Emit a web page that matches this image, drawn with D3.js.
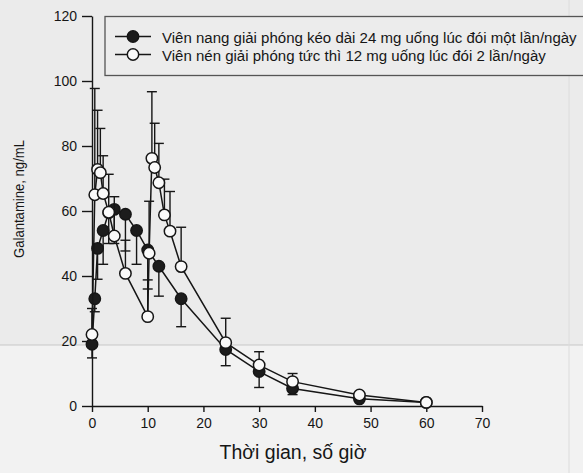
<!DOCTYPE html>
<html><head><meta charset="utf-8">
<script src="https://cdn.jsdelivr.net/npm/d3@7"></script>
<style>html,body{margin:0;padding:0;background:#eeeeee;}svg{display:block;}</style>
</head><body>
<svg id="c" width="583" height="473"></svg>
<script>
// ---- data ----
const timeER = [0, 0.5, 1, 2, 3, 4, 6, 8, 10, 12, 16, 24, 30, 36, 48, 60];
const concER = [19, 33, 48.5, 54, 59.5, 60.5, 59, 54, 48, 43, 33, 17.4, 10.6, 5.4, 2.2, 1.1];
const sdER   = [4.2, 4, 9.5, 10.4, 9.5, 10.5, 11.3, 10.4, 12, 9.2, 8.6, 5, 4.9, 1.9, 0.7, 0.3];

const timeIR = [0, 0.5, 1, 1.5, 2, 3, 4, 6, 10, 10.25, 10.75, 11.25, 12, 13, 14, 16, 24, 30, 36, 48, 60];
const concIR = [22, 65, 72.8, 71.8, 65.4, 59.6, 52.3, 40.8, 27.5, 47, 76.2, 73.4, 68.7, 58.8, 53.8, 42.9, 19.5, 12.6, 7.5, 3.4, 1.1];
const sdIR   = [8, 32.7, 18.2, 13.6, 11.6, 11.7, 12.1, 10.2, 11.3, 16, 20.5, 13.6, 12.1, 11, 12.2, 12.1, 7.5, 4.1, 2.5, 0.8, 0.4];

const xTicks = [0, 10, 20, 30, 40, 50, 60, 70];
const yTicks = [0, 20, 40, 60, 80, 100, 120];
const legendLabels = [
  "Viên nang giải phóng kéo dài 24 mg uống lúc đói một lần/ngày",
  "Viên nén giải phóng tức thì 12 mg uống lúc đói 2 lần/ngày"
];
const xLabel = "Thời gian, số giờ";
const yLabel = "Galantamine, ng/mL";

// ---- drawing ----
const svg = d3.select("#c");
const ink = "#161616";
const font = "'Liberation Sans', Arial, sans-serif";

// paper background
svg.append("rect").attr("x",0).attr("y",0).attr("width",583).attr("height",345).attr("fill","#ebebeb");
svg.append("rect").attr("x",0).attr("y",345).attr("width",583).attr("height",128).attr("fill","#f2f2f2");
svg.append("line").attr("x1",0).attr("x2",583).attr("y1",345).attr("y2",345).attr("stroke","#c8c8c8").attr("stroke-width",1.2);
svg.append("line").attr("x1",569).attr("x2",569).attr("y1",0).attr("y2",473).attr("stroke","#dcdcdc").attr("stroke-width",1);

const x = d3.scaleLinear().domain([0,70]).range([92,482]);
const y = d3.scaleLinear().domain([0,120]).range([406,16]);

// axes
const xAxis = svg.append("g").attr("transform","translate(0,406)")
  .call(d3.axisBottom(x).tickValues(xTicks).tickSize(6).tickPadding(6).tickSizeOuter(0));
const yAxis = svg.append("g").attr("transform","translate(92,0)")
  .call(d3.axisLeft(y).tickValues(yTicks).tickSize(10).tickPadding(5).tickSizeOuter(0));
[xAxis,yAxis].forEach(g=>{
  g.attr("font-size",null).attr("font-family",null);
  g.selectAll("path.domain").attr("stroke",ink).attr("stroke-width",1.4);
  g.selectAll(".tick line").attr("stroke",ink).attr("stroke-width",1.4);
  g.selectAll(".tick text").attr("fill",ink).attr("font-family",font).attr("font-size",14);
});

// axis titles
svg.append("text").attr("x",293).attr("y",459).attr("text-anchor","middle")
  .attr("fill",ink).attr("font-family",font).attr("font-size",19.5).text(xLabel);
svg.append("g").attr("transform","translate(24,199)")
  .append("text").attr("transform","rotate(-90)").attr("x",0).attr("y",0).attr("text-anchor","middle")
  .attr("fill",ink).attr("font-family",font).attr("font-size",14)
  .attr("textLength",118).attr("lengthAdjust","spacingAndGlyphs").text(yLabel);

function series(times, conc, sd, filled, dir){
  const pts = times.map((t,i)=>({t, v:conc[i], s:sd[i]}));
  const g = svg.append("g");
  g.append("path").datum(pts)
    .attr("d", d3.line().x(d=>x(d.t)).y(d=>y(d.v)))
    .attr("fill","none").attr("stroke",ink).attr("stroke-width",1.5);
  const eb = g.selectAll("g.eb").data(pts).join("g");
  eb.append("line").attr("x1",d=>x(d.t)).attr("x2",d=>x(d.t))
    .attr("y1",d=>y(d.v)).attr("y2",d=>y(d.v+dir*d.s))
    .attr("stroke",ink).attr("stroke-width",1.4);
  eb.append("line").attr("x1",d=>x(d.t)-5).attr("x2",d=>x(d.t)+5)
    .attr("y1",d=>y(d.v+dir*d.s)).attr("y2",d=>y(d.v+dir*d.s))
    .attr("stroke",ink).attr("stroke-width",1.4);
  g.selectAll("circle").data(pts).join("circle")
    .attr("cx",d=>x(d.t)).attr("cy",d=>y(d.v)).attr("r",5.7)
    .attr("fill", filled ? "#1c1c1c" : "#fafafa").attr("stroke",ink).attr("stroke-width",1.5);
}
series(timeER, concER, sdER, true, -1);
series(timeIR, concIR, sdIR, false, 1);

// legend
svg.append("rect").attr("x",105).attr("y",16.5).attr("width",520).attr("height",59)
  .attr("fill","#ececec").attr("stroke","#555").attr("stroke-width",1.3);
const leg = [{lab:legendLabels[0], filled:true, cy:36.5, by:42.5},
             {lab:legendLabels[1], filled:false, cy:54.5, by:60.5}];
let legSize = null;
leg.forEach((d,i)=>{
  svg.append("line").attr("x1",115).attr("x2",151).attr("y1",d.cy).attr("y2",d.cy)
    .attr("stroke",ink).attr("stroke-width",1.5);
  svg.append("circle").attr("cx",133).attr("cy",d.cy).attr("r",5.7)
    .attr("fill", d.filled ? "#1c1c1c" : "#fafafa").attr("stroke",ink).attr("stroke-width",1.5);
  const t = svg.append("text").attr("x",162).attr("y",d.by).attr("fill",ink)
    .attr("font-family",font).text(d.lab);
  if (i===0){
    t.attr("font-size",10);
    const w = t.node().getComputedTextLength();
    legSize = +(10*415/w).toFixed(2);
  }
  t.attr("font-size",legSize);
});
</script>
</body></html>
